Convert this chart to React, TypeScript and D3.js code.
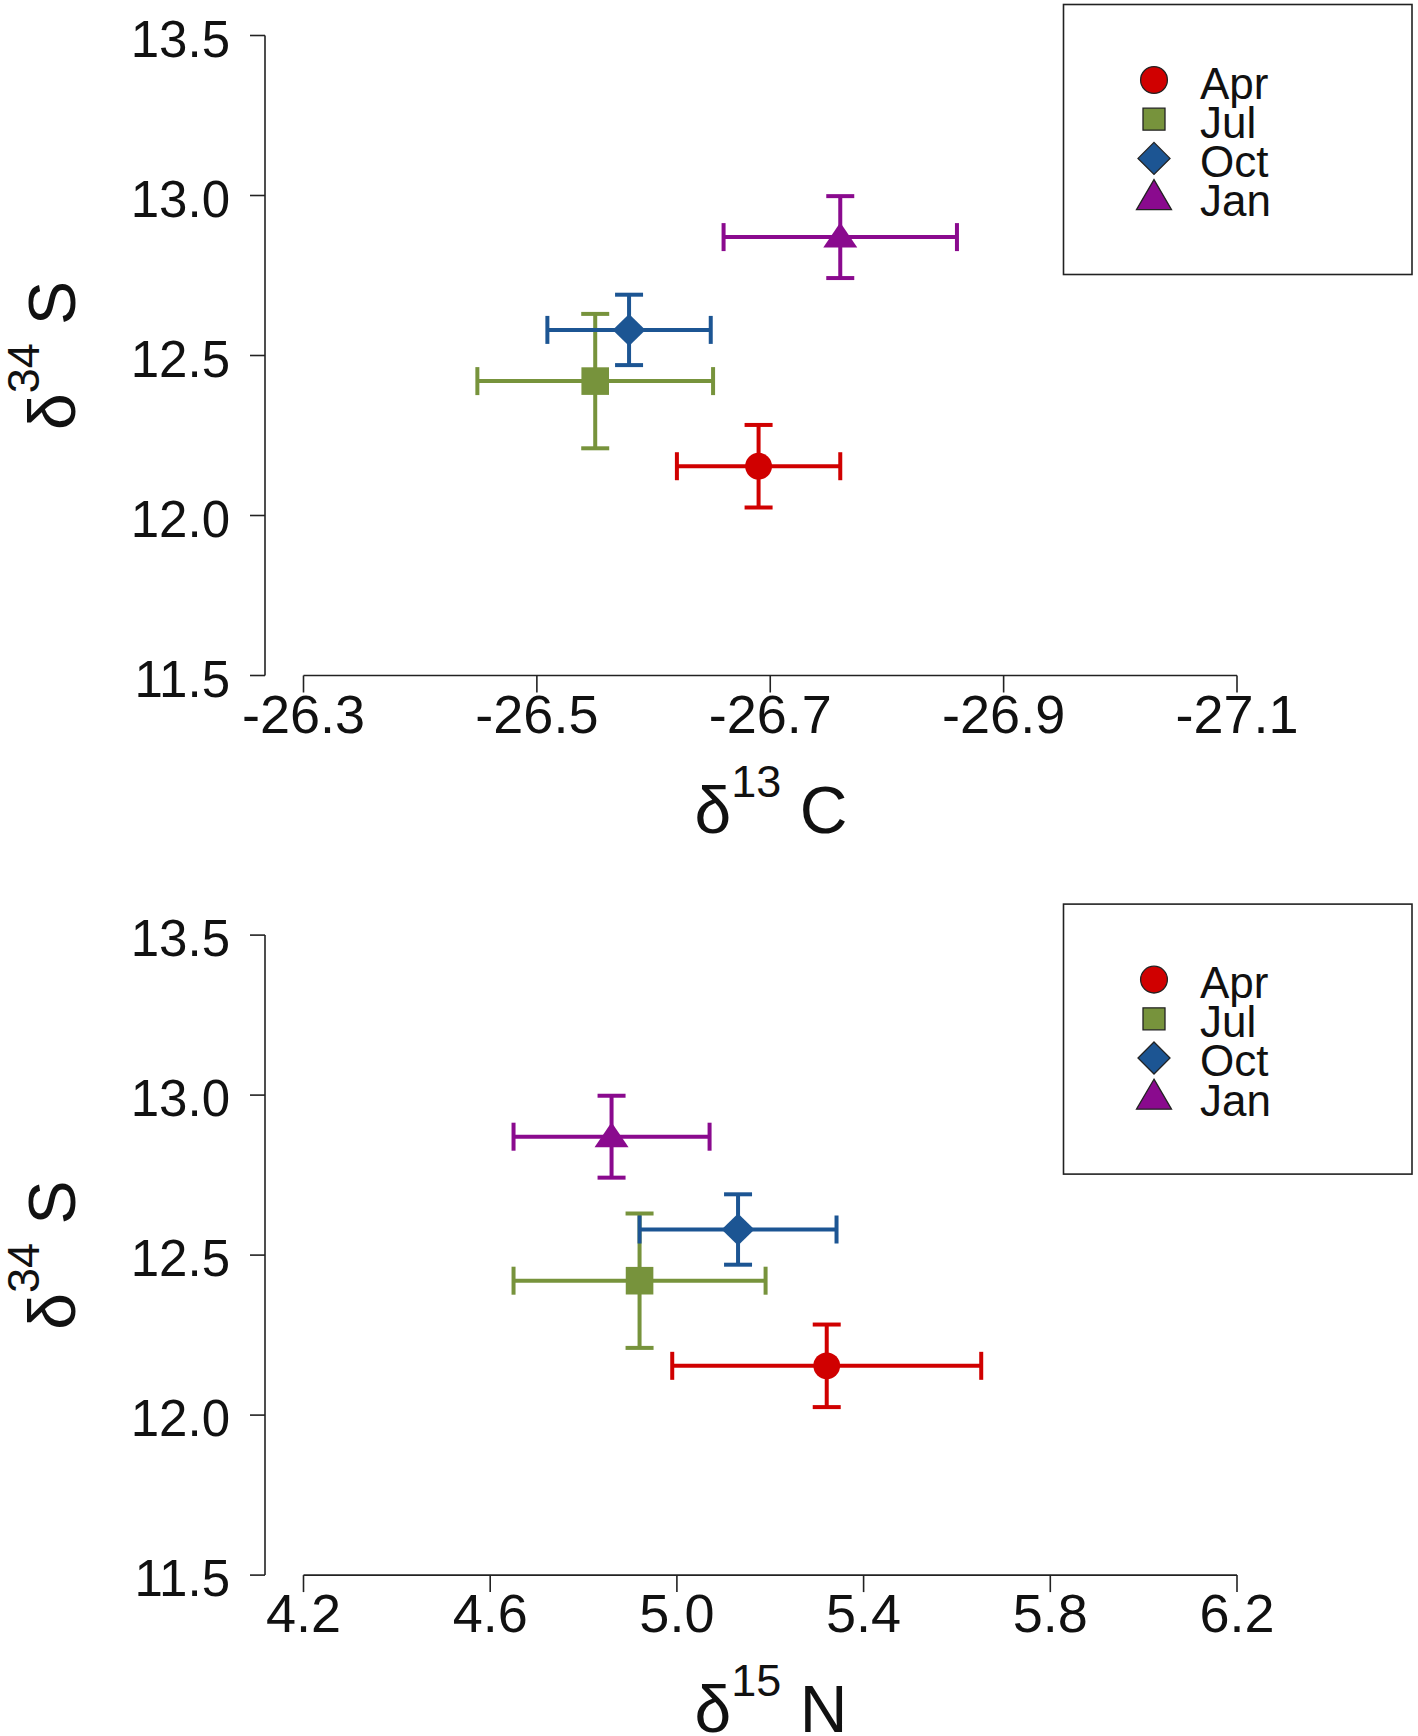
import React from "react";
import * as d3 from "d3";

// ---- data ----
const months = ["Apr", "Jul", "Oct", "Jan"];
const colors = ["#D00000", "#77933C", "#1C5593", "#8A0A8E"];
const shapes = ["circle", "square", "diamond", "triangle"];
const d34S = [12.154, 12.42, 12.58, 12.87];
const d34S_sd = [0.129, 0.21, 0.11, 0.128];
const d13C = [-26.69, -26.55, -26.579, -26.76];
const d13C_sd = [0.07, 0.101, 0.07, 0.1];
const d15N = [5.321, 4.92, 5.131, 4.86];
const d15N_sd = [0.331, 0.27, 0.211, 0.21];
const yTicks = [11.5, 12.0, 12.5, 13.0, 13.5];
const cTicks = [-26.3, -26.5, -26.7, -26.9, -27.1];
const nTicks = [4.2, 4.6, 5.0, 5.4, 5.8, 6.2];

const FONT = "'Liberation Sans', Arial, Helvetica, sans-serif";
const AXIS = "#222";

function markerPath(shape: string, legend: boolean): string {
  if (shape === "circle") {
    const r = 13.4;
    return `M${-r},0A${r},${r} 0 1,0 ${r},0A${r},${r} 0 1,0 ${-r},0Z`;
  }
  if (shape === "square") {
    const h = legend ? 11 : 13.8;
    return `M${-h},${-h}H${h}V${h}H${-h}Z`;
  }
  if (shape === "diamond") {
    const w = legend ? 16 : 16.4;
    const h = legend ? 16 : 16;
    return `M0,${-h}L${w},0L0,${h}L${-w},0Z`;
  }
  // triangle
  const w = legend ? 17.5 : 17;
  const top = legend ? -18 : -14.5;
  const bot = legend ? 12 : 10.5;
  return `M0,${top}L${w},${bot}L${-w},${bot}Z`;
}

type PanelProps = {
  offsetY: number;
  xDomain: [number, number];
  xTicks: number[];
  xVals: number[];
  xSd: number[];
  xLabelSup: string;
  xLabelEl: string;
  xFmt: (v: number) => string;
};

function Panel({ offsetY, xDomain, xTicks, xVals, xSd, xLabelSup, xLabelEl, xFmt }: PanelProps) {
  const x = d3.scaleLinear().domain(xDomain).range([303.5, 1237]);
  const y = d3.scaleLinear().domain([11.5, 13.5]).range([675.5, 35.5]);
  const yAxisX = 265;
  const xAxisY = y(11.5);
  const cap = 14;
  return (
    <g transform={`translate(0,${offsetY})`}>
      {/* y axis */}
      <line x1={yAxisX} x2={yAxisX} y1={y(13.5)} y2={y(11.5)} stroke={AXIS} strokeWidth={1.6} />
      {yTicks.map((t) => (
        <g key={"y" + t}>
          <line x1={yAxisX - 15} x2={yAxisX} y1={y(t)} y2={y(t)} stroke={AXIS} strokeWidth={1.6} />
          <text x={230} y={y(t) + 21} textAnchor="end" fontSize={51} fontFamily={FONT} fill="#111">
            {d3.format(".1f")(t)}
          </text>
        </g>
      ))}
      {/* x axis */}
      <line x1={x(xTicks[0])} x2={x(xTicks[xTicks.length - 1])} y1={xAxisY} y2={xAxisY} stroke={AXIS} strokeWidth={1.6} />
      {xTicks.map((t) => (
        <g key={"x" + t}>
          <line x1={x(t)} x2={x(t)} y1={xAxisY} y2={xAxisY + 17} stroke={AXIS} strokeWidth={1.6} />
          <text x={x(t)} y={xAxisY + 57} textAnchor="middle" fontSize={54} fontFamily={FONT} fill="#111">
            {xFmt(t)}
          </text>
        </g>
      ))}
      {/* axis labels */}
      <text
        transform={`translate(75,${(y(13.5) + y(11.5)) / 2}) rotate(-90)`}
        textAnchor="middle"
        fontFamily={FONT}
        fill="#111"
      >
        <tspan fontSize={66}>δ</tspan>
        <tspan fontSize={45} dy={-36}>34</tspan>
        <tspan fontSize={66} dy={36}>{"\u00a0S"}</tspan>
      </text>
      <text x={771} y={xAxisY + 157} textAnchor="middle" fontFamily={FONT} fill="#111">
        <tspan fontSize={66}>δ</tspan>
        <tspan fontSize={45} dy={-36}>{xLabelSup}</tspan>
        <tspan fontSize={66} dy={36}>{"\u00a0" + xLabelEl}</tspan>
      </text>
      {/* data */}
      {months.map((m, i) => {
        const cx = x(xVals[i]);
        const cy = y(d34S[i]);
        const xl = x(xVals[i] - xSd[i]);
        const xr = x(xVals[i] + xSd[i]);
        const yt = y(d34S[i] + d34S_sd[i]);
        const yb = y(d34S[i] - d34S_sd[i]);
        const c = colors[i];
        return (
          <g key={m} stroke={c} strokeWidth={4} fill="none">
            <line x1={xl} x2={xr} y1={cy} y2={cy} />
            <line x1={xl} x2={xl} y1={cy - cap} y2={cy + cap} />
            <line x1={xr} x2={xr} y1={cy - cap} y2={cy + cap} />
            <line x1={cx} x2={cx} y1={yt} y2={yb} />
            <line x1={cx - cap} x2={cx + cap} y1={yt} y2={yt} />
            <line x1={cx - cap} x2={cx + cap} y1={yb} y2={yb} />
            <path d={markerPath(shapes[i], false)} transform={`translate(${cx},${cy})`} fill={c} stroke="none" />
          </g>
        );
      })}
      {/* legend */}
      <rect x={1063.5} y={4.5} width={348.5} height={270} fill="white" stroke={AXIS} strokeWidth={1.6} />
      {months.map((m, i) => {
        const ry = 80 + i * 39.2;
        return (
          <g key={"leg" + m}>
            <path
              d={markerPath(shapes[i], true)}
              transform={`translate(1154,${ry})`}
              fill={colors[i]}
              stroke="#222"
              strokeWidth={1.3}
            />
            <text x={1200} y={ry + 18.5} fontSize={44} fontFamily={FONT} fill="#111">
              {m}
            </text>
          </g>
        );
      })}
    </g>
  );
}

export default function App() {
  return (
    <svg
      width={1418}
      height={1736}
      style={{ position: "absolute", left: 0, top: 0, background: "white" }}
      xmlns="http://www.w3.org/2000/svg"
    >
      <rect x={0} y={0} width={1418} height={1736} fill="white" />
      <Panel
        offsetY={0}
        xDomain={[-26.3, -27.1]}
        xTicks={cTicks}
        xVals={d13C}
        xSd={d13C_sd}
        xLabelSup="13"
        xLabelEl="C"
        xFmt={(v) => d3.format(".1f")(v).replace("−", "-")}
      />
      <Panel
        offsetY={899.6}
        xDomain={[4.2, 6.2]}
        xTicks={nTicks}
        xVals={d15N}
        xSd={d15N_sd}
        xLabelSup="15"
        xLabelEl="N"
        xFmt={(v) => d3.format(".1f")(v)}
      />
    </svg>
  );
}
